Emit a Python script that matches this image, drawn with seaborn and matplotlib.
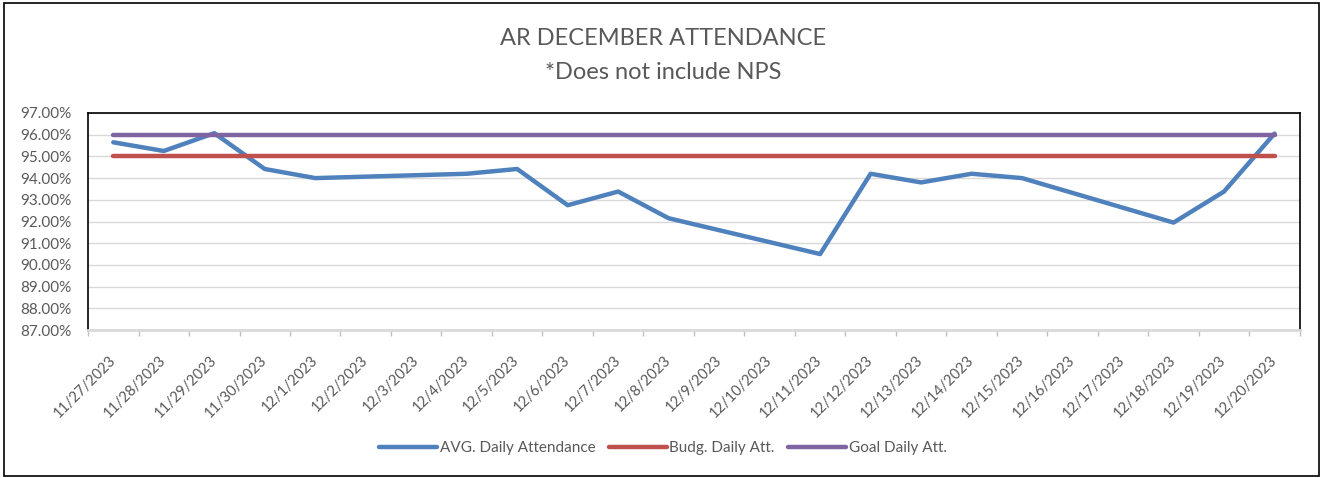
import numpy as np
import pandas as pd
import matplotlib
matplotlib.use("Agg")
import matplotlib.pyplot as plt
from matplotlib.patches import Rectangle
from matplotlib.ticker import FuncFormatter, FixedLocator
import seaborn as sns

# data (None = no school day)
dates = ["11/27/2023", "11/28/2023", "11/29/2023", "11/30/2023", "12/1/2023",
         "12/2/2023", "12/3/2023", "12/4/2023", "12/5/2023", "12/6/2023",
         "12/7/2023", "12/8/2023", "12/9/2023", "12/10/2023", "12/11/2023",
         "12/12/2023", "12/13/2023", "12/14/2023", "12/15/2023", "12/16/2023",
         "12/17/2023", "12/18/2023", "12/19/2023", "12/20/2023"]
avg_attendance = [95.65, 95.25, 96.07, 94.42, 94.0,
                  None, None, 94.2, 94.42, 92.75,
                  93.38, 92.15, None, None, 90.5,
                  94.2, 93.8, 94.2, 94.0, None,
                  None, 91.95, 93.38, 96.05]
budget_att = [95.0] * len(dates)
goal_att = [96.0] * len(dates)

series_names = ["AVG. Daily Attendance", "Budg. Daily Att.", "Goal Daily Att."]
colors = ["#4F81BD", "#C0504D", "#8064A2"]

frames = []
for name, vals in zip(series_names, [avg_attendance, budget_att, goal_att]):
    frames.append(pd.DataFrame({"idx": np.arange(len(dates)), "value": vals, "series": name}))
df = pd.concat(frames, ignore_index=True).dropna()

sns.set_style("white")
plt.rcParams["font.family"] = ["Lato", "DejaVu Sans"]
text_color = "#595959"

fig = plt.figure(figsize=(13.26, 4.78), dpi=100)
ax = fig.add_axes([0.0664, 0.3096, 0.9138, 0.454])

sns.lineplot(data=df, x="idx", y="value", hue="series", hue_order=series_names,
             palette=colors, linewidth=3.2, ax=ax, legend=True, sort=True)

ax.set_xlim(-0.5, len(dates) - 0.5)
ax.set_ylim(87, 97)
ax.set_yticks(np.arange(87, 97.5, 1))
ax.yaxis.set_major_formatter(FuncFormatter(lambda v, p: "%.2f%%" % v))
ax.grid(axis="y", color="#D9D9D9", linewidth=1)
ax.set_axisbelow(True)

ax.set_xticks(np.arange(len(dates)))
ax.set_xticklabels(dates, rotation=45, ha="right", va="center", rotation_mode="anchor")
ax.xaxis.set_minor_locator(FixedLocator(np.arange(-0.5, len(dates), 1)))
ax.tick_params(axis="x", which="major", length=0, pad=20, labelsize=10.5, labelcolor=text_color)
ax.tick_params(axis="x", which="minor", length=4, color="#BFBFBF", width=1, direction="out", bottom=True)
ax.tick_params(axis="y", length=0, labelsize=11, labelcolor=text_color, pad=12)
ax.set_xlabel("")
ax.set_ylabel("")

for side in ["top", "left", "right"]:
    ax.spines[side].set_color("black")
    ax.spines[side].set_linewidth(1.2)
ax.spines["bottom"].set_color("#D9D9D9")
ax.spines["bottom"].set_linewidth(2)

handles, labels = ax.get_legend_handles_labels()
ax.get_legend().remove()
fig.legend(handles, labels, loc="center", bbox_to_anchor=(0.5, 0.063), ncol=3,
           frameon=False, handlelength=3.8, handletextpad=0.15, columnspacing=0.9,
           prop={"size": 11}, labelcolor=text_color)

fig.text(0.5, 0.92, "AR DECEMBER ATTENDANCE", ha="center", va="center",
         fontsize=17, color=text_color)
fig.text(0.5, 0.849, "*Does not include NPS", ha="center", va="center",
         fontsize=17, color=text_color)

fig.patches.append(Rectangle((0.003, 0.004), 0.992, 0.99, transform=fig.transFigure,
                             fill=False, edgecolor="black", linewidth=1.2))

fig.savefig("out.png", dpi=100)
